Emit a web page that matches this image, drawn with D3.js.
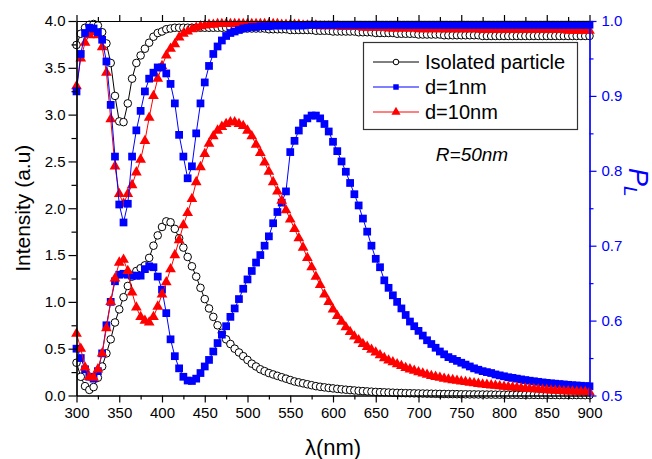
<!DOCTYPE html>
<html>
<head>
<meta charset="utf-8">
<script src="https://cdn.jsdelivr.net/npm/d3@7"></script>
<style>
  html, body { margin: 0; padding: 0; background: #fff; }
  svg { display: block; }
  text { font-family: Arial, "Liberation Sans", sans-serif; }
</style>
</head>
<body>
<svg id="chart" width="652" height="459"></svg>
<script>
// ---------------- data ----------------
const wavelength = [
  300,305,310,315,320,325,330,335,340,345,
  350,355,360,365,370,375,380,385,390,395,
  400,405,410,415,420,425,430,435,440,445,
  450,455,460,465,470,475,480,485,490,495,
  500,505,510,515,520,525,530,535,540,545,
  550,555,560,565,570,575,580,585,590,595,
  600,605,610,615,620,625,630,635,640,645,
  650,655,660,665,670,675,680,685,690,695,
  700,705,710,715,720,725,730,735,740,745,
  750,755,760,765,770,775,780,785,790,795,
  800,805,810,815,820,825,830,835,840,845,
  850,855,860,865,870,875,880,885,890,895,
  900];

// Intensity (left axis)
const intensityIsolated = [
  0.35,0.2,0.1,0.06,0.09,0.19,0.31,0.45,0.6,0.78,
  0.92,1.05,1.17,1.27,1.33,1.36,1.39,1.47,1.6,1.71,
  1.8,1.86,1.85,1.78,1.68,1.58,1.48,1.38,1.27,1.15,
  1.03,0.93,0.84,0.75,0.67,0.6,0.55,0.5,0.46,0.42,
  0.38,0.34,0.31,0.28,0.26,0.24,0.225,0.21,0.195,0.18,
  0.165,0.15,0.14,0.13,0.12,0.11,0.1,0.093,0.087,0.081,
  0.076,0.071,0.066,0.062,0.058,0.054,0.05,0.047,0.044,0.041,
  0.038,0.036,0.034,0.032,0.03,0.028,0.027,0.025,0.024,0.023,
  0.022,0.021,0.02,0.019,0.018,0.017,0.016,0.015,0.015,0.014,
  0.013,0.013,0.012,0.012,0.011,0.011,0.01,0.01,0.009,0.009,
  0.009,0.008,0.008,0.008,0.007,0.007,0.007,0.007,0.006,0.006,
  0.006,0.006,0.006,0.005,0.005,0.005,0.005,0.005,0.005,0.004,
  0.004];

const intensityD1 = [
  0.5,0.4,0.28,0.2,0.18,0.26,0.45,0.75,1.0,1.22,
  1.29,1.3,1.29,1.28,1.28,1.28,1.35,1.38,1.37,1.27,
  1.13,0.88,0.6,0.42,0.29,0.2,0.16,0.155,0.18,0.24,
  0.31,0.38,0.47,0.56,0.65,0.74,0.84,0.93,1.03,1.14,
  1.24,1.33,1.42,1.5,1.6,1.7,1.84,1.96,2.06,2.18,
  2.6,2.72,2.83,2.91,2.96,2.99,2.99,2.96,2.9,2.82,
  2.71,2.61,2.5,2.39,2.27,2.15,2.03,1.89,1.75,1.6,
  1.46,1.37,1.23,1.15,1.07,1.0,0.93,0.86,0.79,0.74,
  0.69,0.64,0.59,0.55,0.51,0.47,0.44,0.41,0.39,0.37,
  0.35,0.33,0.31,0.29,0.275,0.26,0.25,0.24,0.225,0.215,
  0.205,0.195,0.188,0.18,0.172,0.165,0.158,0.152,0.146,0.14,
  0.135,0.13,0.126,0.122,0.118,0.114,0.11,0.107,0.104,0.101,
  0.098];

const intensityD10 = [
  0.66,0.5,0.3,0.2,0.19,0.28,0.45,0.72,1.0,1.25,
  1.42,1.45,1.33,1.1,0.94,0.84,0.8,0.78,0.84,0.95,
  1.08,1.21,1.35,1.5,1.66,1.82,1.95,2.1,2.28,2.44,
  2.58,2.69,2.77,2.83,2.87,2.9,2.92,2.92,2.9,2.88,
  2.83,2.77,2.68,2.59,2.49,2.39,2.28,2.18,2.08,1.98,
  1.88,1.78,1.68,1.58,1.47,1.37,1.27,1.18,1.08,1.0,
  0.92,0.85,0.79,0.73,0.68,0.63,0.59,0.55,0.52,0.49,
  0.46,0.43,0.4,0.375,0.355,0.335,0.315,0.295,0.28,0.265,
  0.25,0.235,0.222,0.21,0.2,0.19,0.18,0.172,0.165,0.158,
  0.15,0.144,0.138,0.131,0.125,0.119,0.114,0.109,0.104,0.099,
  0.095,0.09,0.086,0.082,0.078,0.074,0.07,0.067,0.064,0.061,
  0.058,0.055,0.052,0.05,0.047,0.045,0.043,0.041,0.039,0.037,
  0.035];

// P_L (right axis)
const plIsolated = [
  0.968,0.983,0.991,0.995,0.996,0.994,0.985,0.970,0.944,0.900,
  0.866,0.865,0.890,0.923,0.944,0.954,0.963,0.971,0.979,0.984,
  0.986,0.989,0.990,0.991,0.991,0.991,0.991,0.991,0.991,0.991,
  0.991,0.991,0.991,0.991,0.991,0.991,0.991,0.990,0.990,0.990,
  0.990,0.990,0.990,0.990,0.990,0.989,0.989,0.989,0.989,0.989,
  0.988,0.988,0.988,0.988,0.988,0.988,0.987,0.987,0.987,0.987,
  0.986,0.986,0.986,0.986,0.986,0.986,0.985,0.985,0.985,0.985,
  0.984,0.984,0.984,0.984,0.984,0.983,0.983,0.983,0.983,0.983,
  0.982,0.982,0.982,0.982,0.982,0.982,0.981,0.981,0.981,0.981,
  0.981,0.981,0.981,0.981,0.981,0.980,0.980,0.980,0.980,0.980,
  0.980,0.980,0.980,0.980,0.980,0.980,0.980,0.980,0.980,0.980,
  0.980,0.980,0.980,0.980,0.980,0.980,0.980,0.980,0.980,0.980,
  0.980];

const plD1 = [
  0.906,0.956,0.984,0.991,0.990,0.985,0.975,0.946,0.888,0.819,
  0.755,0.731,0.756,0.819,0.854,0.880,0.906,0.923,0.931,0.938,
  0.938,0.930,0.916,0.890,0.848,0.819,0.790,0.806,0.850,0.890,
  0.918,0.940,0.956,0.966,0.974,0.980,0.984,0.986,0.988,0.990,
  0.991,0.992,0.992,0.993,0.993,0.993,0.994,0.994,0.994,0.994,
  0.994,0.994,0.994,0.994,0.995,0.995,0.995,0.995,0.995,0.995,
  0.995,0.995,0.995,0.995,0.995,0.995,0.995,0.995,0.995,0.995,
  0.995,0.995,0.995,0.995,0.995,0.995,0.995,0.995,0.995,0.995,
  0.995,0.995,0.995,0.995,0.995,0.995,0.995,0.995,0.995,0.995,
  0.995,0.995,0.995,0.995,0.995,0.995,0.995,0.995,0.995,0.995,
  0.995,0.995,0.995,0.995,0.995,0.995,0.995,0.995,0.995,0.995,
  0.995,0.995,0.995,0.995,0.995,0.995,0.995,0.995,0.995,0.995,
  0.995];

const plD10 = [
  0.913,0.950,0.971,0.981,0.985,0.981,0.965,0.931,0.869,0.806,
  0.769,0.756,0.769,0.781,0.798,0.815,0.840,0.871,0.900,0.923,
  0.940,0.954,0.963,0.969,0.978,0.983,0.986,0.989,0.991,0.993,
  0.994,0.995,0.995,0.996,0.996,0.996,0.996,0.996,0.996,0.996,
  0.996,0.996,0.996,0.996,0.996,0.996,0.996,0.996,0.995,0.995,
  0.995,0.995,0.995,0.994,0.994,0.994,0.994,0.993,0.993,0.993,
  0.993,0.993,0.992,0.992,0.992,0.992,0.992,0.991,0.991,0.991,
  0.991,0.991,0.991,0.990,0.990,0.990,0.990,0.990,0.990,0.990,
  0.989,0.989,0.989,0.989,0.989,0.989,0.989,0.989,0.989,0.989,
  0.989,0.989,0.989,0.989,0.989,0.988,0.988,0.988,0.988,0.988,
  0.988,0.988,0.988,0.988,0.988,0.988,0.988,0.988,0.988,0.988,
  0.988,0.988,0.988,0.988,0.988,0.987,0.987,0.987,0.987,0.987,
  0.987];

const legendLabels = ["Isolated particle", "d=1nm", "d=10nm"];
const xTicks = [300,350,400,450,500,550,600,650,700,750,800,850,900];
const yLeftTicks = [0,0.5,1.0,1.5,2.0,2.5,3.0,3.5,4.0];
const yRightTicks = [0.5,0.6,0.7,0.8,0.9,1.0];

// ---------------- layout ----------------
const svg = d3.select("#chart");
const L = 76.5, R = 589.5, T = 21, B = 395.5;
const BLUE = "#0000ff", RED = "#ff0000";

const x = d3.scaleLinear().domain([300, 900]).range([L, R]);
const yI = d3.scaleLinear().domain([0, 4]).range([B, T]);
const yP = d3.scaleLinear().domain([0.5, 1.0]).range([B, T]);

const minorX = d3.range(325, 900, 50);
const minorYL = d3.range(0.25, 4, 0.5);
const minorYR = d3.range(0.55, 1.0, 0.1);

function styleAxis(g, color) {
  g.select(".domain").attr("stroke", color).attr("stroke-width", 1.2);
  g.selectAll(".tick line").attr("stroke", color).attr("stroke-width", 1.2);
  g.selectAll(".tick text").attr("fill", color)
    .style("font-family", "Arial, 'Liberation Sans', sans-serif").style("font-size", "15px");
}

// ---------------- series ----------------
const series = [
  {name: legendLabels[0], color: "#000", type: "circle", data: intensityIsolated, y: yI},
  {name: legendLabels[1], color: BLUE, type: "square", data: intensityD1, y: yI},
  {name: legendLabels[2], color: RED, type: "triangle", data: intensityD10, y: yI},
  {name: legendLabels[0], color: "#000", type: "circle", data: plIsolated, y: yP},
  {name: legendLabels[2], color: RED, type: "triangle", data: plD10, y: yP},
  {name: legendLabels[1], color: BLUE, type: "square", data: plD1, y: yP}
];

const plot = svg.append("g");

function drawMarker(sel, type, color, size) {
  if (type === "circle") {
    sel.append("circle").attr("r", size).attr("fill", "#fff")
      .attr("stroke", color).attr("stroke-width", 1);
  } else if (type === "square") {
    sel.append("path").attr("d", d3.symbol(d3.symbolSquare, size)())
      .attr("fill", color);
  } else {
    sel.append("path").attr("d", d3.symbol(d3.symbolTriangle, size)())
      .attr("fill", color);
  }
}

series.forEach(s => {
  const pts = wavelength.map((w, i) => [w, s.data[i]]);
  const g = plot.append("g");
  g.append("path")
    .attr("d", d3.line().x(d => x(d[0])).y(d => s.y(d[1]))(pts))
    .attr("fill", "none").attr("stroke", s.color).attr("stroke-width", 1);
  const m = g.selectAll("g.m").data(pts).join("g").attr("class", "m")
    .attr("transform", d => `translate(${x(d[0])},${s.y(d[1])})`);
  const sz = s.type === "circle" ? 3.8 : (s.type === "square" ? 60 : 50);
  m.each(function() { drawMarker(d3.select(this), s.type, s.color, sz); });
});

// ---------------- axes ----------------
// bottom
const gB = svg.append("g").attr("transform", `translate(0,${B})`)
  .call(d3.axisBottom(x).tickValues(xTicks).tickSize(7).tickSizeOuter(0).tickPadding(5).tickFormat(d3.format("d")));
styleAxis(gB, "#000");
const gBm = svg.append("g").attr("transform", `translate(0,${B})`)
  .call(d3.axisBottom(x).tickValues(minorX).tickSize(4).tickSizeOuter(0).tickFormat(""));
styleAxis(gBm, "#000");

// top
const gT = svg.append("g").attr("transform", `translate(0,${T})`)
  .call(d3.axisTop(x).tickValues(xTicks).tickSize(6).tickSizeOuter(0).tickFormat(""));
styleAxis(gT, "#000");
const gTm = svg.append("g").attr("transform", `translate(0,${T})`)
  .call(d3.axisTop(x).tickValues(minorX).tickSize(4).tickSizeOuter(0).tickFormat(""));
styleAxis(gTm, "#000");

// left
const gL = svg.append("g").attr("transform", `translate(${L},0)`)
  .call(d3.axisLeft(yI).tickValues(yLeftTicks).tickSize(8).tickSizeOuter(0).tickPadding(3).tickFormat(d3.format(".1f")));
styleAxis(gL, "#000");
const gLm = svg.append("g").attr("transform", `translate(${L},0)`)
  .call(d3.axisLeft(yI).tickValues(minorYL).tickSize(5).tickSizeOuter(0).tickFormat(""));
styleAxis(gLm, "#000");

// right
const gR = svg.append("g").attr("transform", `translate(${R},0)`)
  .call(d3.axisRight(yP).tickValues(yRightTicks).tickSize(7).tickSizeOuter(0).tickPadding(5).tickFormat(d3.format(".1f")));
styleAxis(gR, BLUE);
const gRm = svg.append("g").attr("transform", `translate(${R},0)`)
  .call(d3.axisRight(yP).tickValues(minorYR).tickSize(4).tickSizeOuter(0).tickFormat(""));
styleAxis(gRm, BLUE);

// ---------------- titles ----------------
svg.append("text")
  .attr("transform", `translate(30,${(T + B) / 2}) rotate(-90)`)
  .attr("text-anchor", "middle").style("font-size", "21px").attr("fill", "#000")
  .text("Intensity (a.u)");

const xt = svg.append("text").attr("x", (L + R) / 2).attr("y", 455)
  .attr("text-anchor", "middle").style("font-size", "22px").attr("fill", "#000");
xt.append("tspan").text("λ");
xt.append("tspan").text("(nm)");

const pl = svg.append("text")
  .attr("transform", `translate(629,168) rotate(90)`)
  .attr("fill", BLUE).style("font-size", "27px").style("font-style", "italic");
pl.append("tspan").text("P");
pl.append("tspan").attr("dy", 5).style("font-size", "19px").text("L");

svg.append("text").attr("x", 472).attr("y", 161)
  .attr("text-anchor", "middle").style("font-size", "19px").style("font-style", "italic")
  .attr("fill", "#000").text("R=50nm");

// ---------------- legend ----------------
const lg = svg.append("g");
lg.append("rect").attr("x", 363.5).attr("y", 42.5).attr("width", 214).attr("height", 87)
  .attr("fill", "#fff").attr("stroke", "#333").attr("stroke-width", 1.2);
const legendItems = [
  {color: "#000", type: "circle", size: 2.8},
  {color: BLUE, type: "square", size: 30},
  {color: RED, type: "triangle", size: 36}
];
legendItems.forEach((it, i) => {
  const yy = 62 + i * 25;
  lg.append("line").attr("x1", 373).attr("x2", 419).attr("y1", yy).attr("y2", yy)
    .attr("stroke", it.color).attr("stroke-width", 1);
  const mg = lg.append("g").attr("transform", `translate(396,${yy})`);
  drawMarker(mg, it.type, it.color, it.size);
  lg.append("text").attr("x", 425).attr("y", yy + 7)
    .style("font-size", "20px").attr("fill", "#000").text(legendLabels[i]);
});
</script>
</body>
</html>
